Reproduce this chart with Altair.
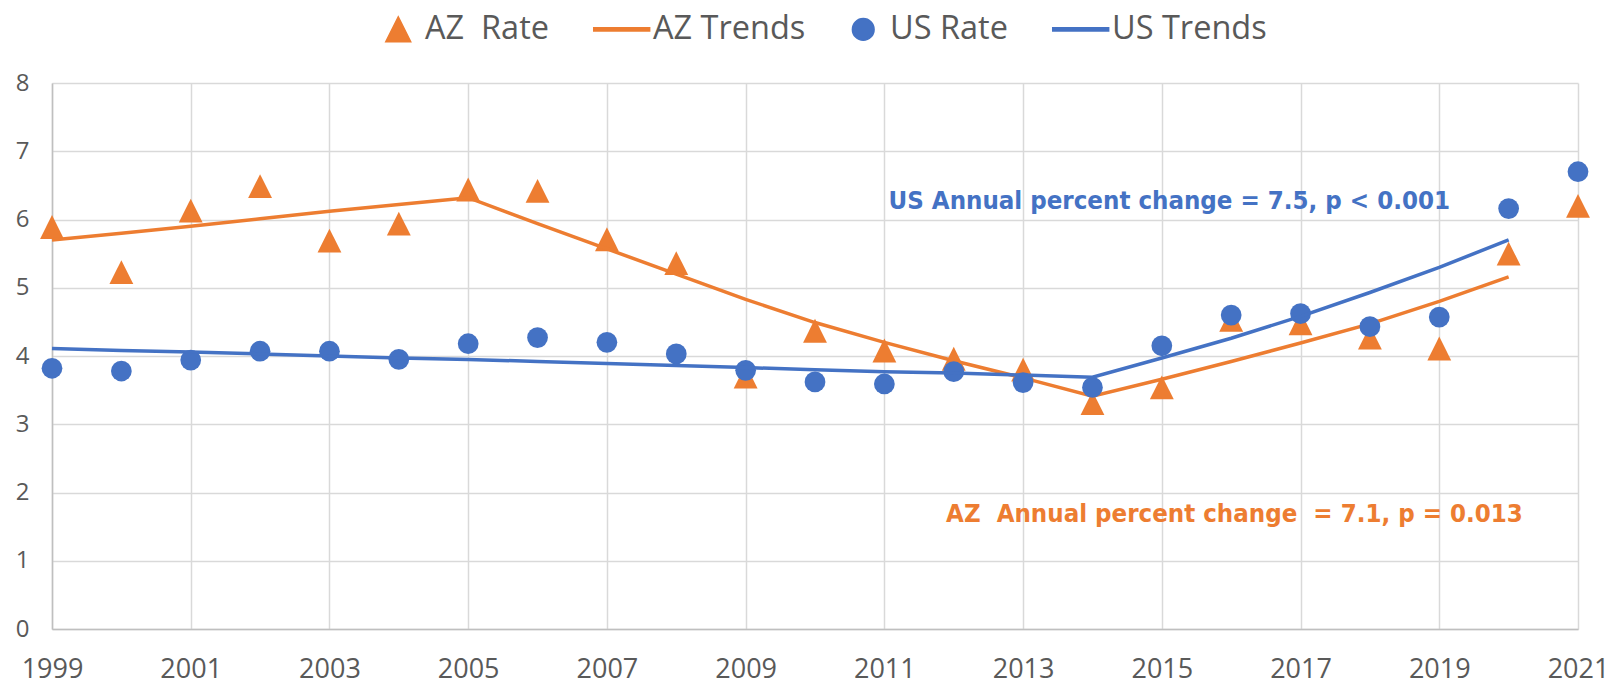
import altair as alt
import pandas as pd

# ---- data ----
years = list(range(1999, 2022))
trend_years = list(range(1999, 2021))

az_rate = [5.89, 5.23, 6.13, 6.49, 5.69, 5.94, 6.44, 6.42, 5.71, 5.36, 3.70, 4.37,
           4.08, 3.96, 3.80, 3.31, 3.54, 4.53, 4.48, 4.27, 4.11, 5.50, 6.20]
us_rate = [3.82, 3.78, 3.94, 4.07, 4.07, 3.95, 4.18, 4.27, 4.20, 4.03, 3.79, 3.62,
           3.59, 3.77, 3.61, 3.54, 4.15, 4.60, 4.62, 4.43, 4.57, 6.16, 6.70]
az_trend = [5.70, 5.80, 5.90, 6.01, 6.12, 6.22, 6.32, 5.94, 5.57, 5.20, 4.83, 4.49,
            4.20, 3.93, 3.68, 3.41, 3.66, 3.92, 4.19, 4.47, 4.80, 5.16]
us_trend = [4.11, 4.08, 4.06, 4.03, 4.00, 3.97, 3.95, 3.92, 3.89, 3.86, 3.83, 3.80,
            3.77, 3.75, 3.72, 3.69, 3.97, 4.26, 4.58, 4.93, 5.30, 5.70]

series_names = ["AZ\u00a0 Rate", "AZ Trends", "US Rate", "US Trends"]

ann_us_text = ["US Annual percent change = 7.5, p < 0.001"]
ann_us_year = [2011.06]
ann_us_value = [6.16]
ann_az_text = ["AZ\u00a0 Annual percent change \u00a0= 7.1, p = 0.013"]
ann_az_year = [2011.89]
ann_az_value = [1.57]

x_ticks = list(range(1999, 2022, 2))
y_ticks = list(range(0, 9))

# ---- styles ----
ORANGE = "#ED7D31"
BLUE = "#4472C4"
TXT = "#595959"
GRID = "#D9D9D9"
FONT = "Open Sans"
BOLD_FONT = "Liberation Sans Narrow, DejaVu Sans Condensed, Open Sans"

tri = "M0,-1.15L1.15,1.15L-1.15,1.15Z"
line_sym = "M-3.0,-0.15H2.16V0.15H-3.0Z"


def frame(xs, vs, name):
    return pd.DataFrame({"year": xs, "value": vs, "series": name})


x = alt.X(
    "year:Q",
    title=None,
    scale=alt.Scale(domain=[1999, 2021], nice=False, zero=False),
    axis=alt.Axis(values=x_ticks, format="d", labelFontSize=27, labelFont=FONT,
                  labelColor=TXT, labelPadding=27, ticks=False, tickSize=0,
                  domainColor="#BFBFBF", domainWidth=1.5, grid=True,
                  gridColor=GRID, gridWidth=1.5, labelFlush=False,
                  labelOverlap=False),
)
y = alt.Y(
    "value:Q",
    title=None,
    scale=alt.Scale(domain=[0, 8], nice=False),
    axis=alt.Axis(values=y_ticks, format="d", labelFontSize=24, labelFont=FONT,
                  labelColor=TXT, labelPadding=23, ticks=False, tickSize=0,
                  domainColor="#BFBFBF", domainWidth=1.5, grid=True,
                  gridColor=GRID, gridWidth=1.5, labelFlush=False),
)

legend = alt.Legend(orient="none", legendX=330, legendY=-70, direction="horizontal",
                    title=None, labelFontSize=32.5, labelFont=FONT, labelColor=TXT,
                    symbolSize=470, columnPadding=41, labelOffset=10.5, padding=0,
                    symbolOpacity=1, labelLimit=400)

color = alt.Color("series:N", title=None,
                  scale=alt.Scale(domain=series_names, range=[ORANGE, ORANGE, BLUE, BLUE]),
                  legend=legend)
shape = alt.Shape("series:N", title=None,
                  scale=alt.Scale(domain=series_names, range=[tri, line_sym, "circle", line_sym]),
                  legend=legend)

az_pts = alt.Chart(frame(years, az_rate, series_names[0])).mark_point(
    filled=True, size=430, opacity=1).encode(x=x, y=y, color=color, shape=shape)
az_line = alt.Chart(frame(trend_years, az_trend, series_names[1])).mark_line(
    strokeWidth=3.5).encode(x=x, y=y, color=color)
us_pts = alt.Chart(frame(years, us_rate, series_names[2])).mark_point(
    filled=True, size=430, opacity=1).encode(x=x, y=y, color=color, shape=shape)
us_line = alt.Chart(frame(trend_years, us_trend, series_names[3])).mark_line(
    strokeWidth=3.5).encode(x=x, y=y, color=color)

us_ann = alt.Chart(pd.DataFrame({"year": ann_us_year, "value": ann_us_value,
                                 "label": ann_us_text})).mark_text(
    align="left", baseline="alphabetic", font=BOLD_FONT, fontWeight="bold",
    fontSize=25.6, color=BLUE).encode(x="year:Q", y="value:Q", text="label:N")
az_ann = alt.Chart(pd.DataFrame({"year": ann_az_year, "value": ann_az_value,
                                 "label": ann_az_text})).mark_text(
    align="left", baseline="alphabetic", font=BOLD_FONT, fontWeight="bold",
    fontSize=25.6, color=ORANGE).encode(x="year:Q", y="value:Q", text="label:N")

chart = alt.layer(az_pts, az_line, us_pts, us_line, us_ann, az_ann).properties(
    width=1526, height=546,
    autosize=alt.AutoSizeParams(type="none"),
    padding={"left": 44, "top": 75, "right": 30, "bottom": 57},
    background="white",
).configure_view(stroke=None)

chart.save("out.html", embed_options={"renderer": "svg", "actions": False})
